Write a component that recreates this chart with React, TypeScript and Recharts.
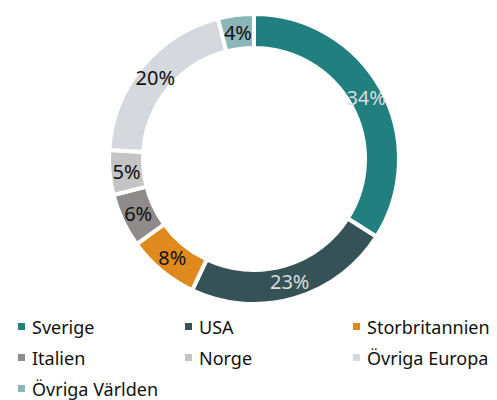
import React from "react";
import { PieChart, Pie, Cell } from "recharts";

// Andel per marknad (%)
const names = ["Sverige", "USA", "Storbritannien", "Italien", "Norge", "Övriga Europa", "Övriga Världen"];
const shares = [34, 23, 8, 6, 5, 20, 4];
const colors = ["#217f80", "#355357", "#e08a1d", "#8f8b8a", "#c4c4c4", "#d5d8dd", "#8db6b8"];
const labelColors = ["#dcdcdc", "#dcdcdc", "#111", "#111", "#111", "#111", "#111"];

const data = names.map((name, i) => ({ name, value: shares[i] }));

const FONT = "'Noto Sans', 'Open Sans', sans-serif";
const RADIAN = Math.PI / 180;

const renderLabel = (props: any) => {
  const { cx, cy, midAngle, innerRadius, outerRadius, value, index } = props;
  const r = (innerRadius + outerRadius) / 2;
  const x = cx + r * Math.cos(-midAngle * RADIAN);
  const y = cy + r * Math.sin(-midAngle * RADIAN);
  return (
    <text
      x={x}
      y={y}
      fill={labelColors[index]}
      textAnchor="middle"
      dominantBaseline="central"
      fontSize={20}
      fontFamily={FONT}
    >
      {value}%
    </text>
  );
};

export default function App() {
  return (
    <div style={{ position: "absolute", left: 0, top: 0, width: 497, height: 400, background: "#fff" }}>
      <PieChart width={497} height={310} margin={{ top: 0, right: 0, bottom: 0, left: 0 }}>
        <Pie
          data={data}
          dataKey="value"
          nameKey="name"
          cx={254}
          cy={159}
          innerRadius={111}
          outerRadius={145}
          startAngle={90}
          endAngle={-270}
          stroke="#fff"
          strokeWidth={4}
          label={renderLabel}
          labelLine={false}
          isAnimationActive={false}
        >
          {data.map((d, i) => (
            <Cell key={d.name} fill={colors[i]} />
          ))}
        </Pie>
      </PieChart>
      {/* legend */}
      <div
        style={{
          position: "absolute",
          left: 0,
          top: 311,
          display: "grid",
          gridTemplateColumns: "167px 168px 162px",
          fontFamily: FONT,
          fontSize: 18,
          color: "#111",
        }}
      >
        {names.map((n, i) => (
          <div key={n} style={{ display: "flex", alignItems: "center", height: 31, paddingLeft: 18 }}>
            <span style={{ width: 7, height: 7, background: colors[i], marginRight: 7, display: "inline-block" }} />
            <span style={{ whiteSpace: "nowrap" }}>{n}</span>
          </div>
        ))}
      </div>
    </div>
  );
}
